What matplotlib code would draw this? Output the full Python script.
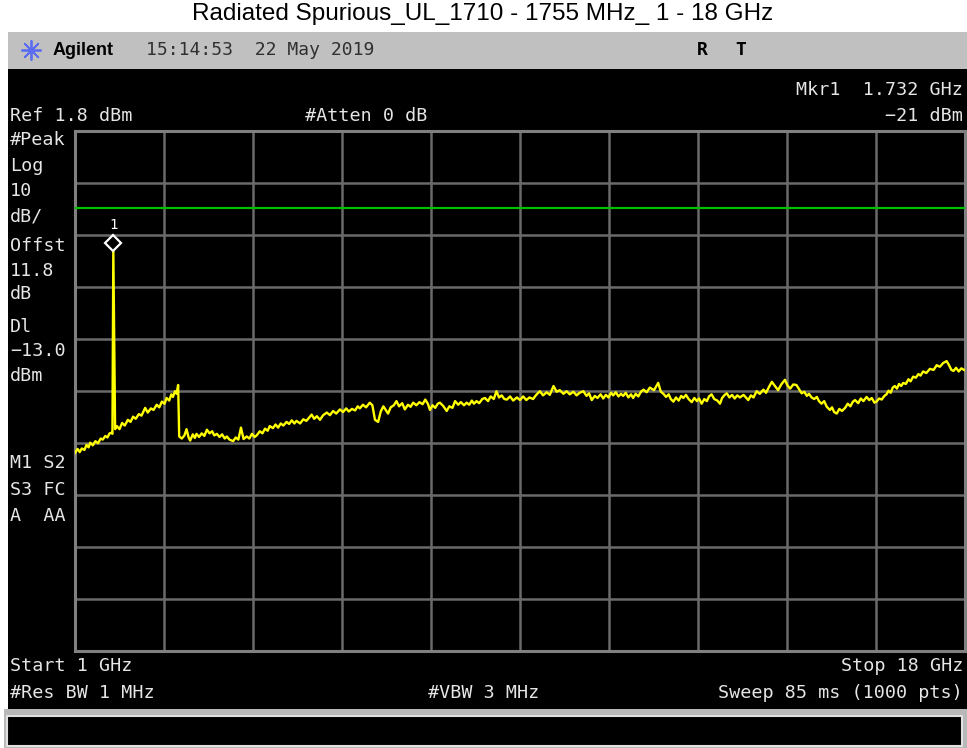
# Spectrum analyzer screenshot: radiated spurious, 1 - 18 GHz
import matplotlib
matplotlib.use("Agg")
import matplotlib.pyplot as plt
import matplotlib.patches as patches
import matplotlib.transforms as mtransforms

# trace (GHz, dBm)
freq_ghz = [
    1.00, 1.05, 1.09, 1.13, 1.18, 1.22, 1.26, 1.29, 1.34, 1.39,
    1.44, 1.49, 1.53, 1.58, 1.62, 1.66, 1.70, 1.715, 1.732, 1.749,
    1.766, 1.80, 1.85, 1.90, 1.95, 2.01, 2.06, 2.11, 2.16, 2.22,
    2.27, 2.34, 2.39, 2.45, 2.50, 2.56, 2.61, 2.66, 2.71, 2.75,
    2.80, 2.84, 2.87, 2.91, 2.94, 2.97, 2.99, 3.04, 3.09, 3.13,
    3.17, 3.20, 3.25, 3.29, 3.32, 3.37, 3.42, 3.47, 3.52, 3.57,
    3.62, 3.66, 3.71, 3.76, 3.81, 3.86, 3.90, 3.95, 4.02, 4.07,
    4.12, 4.17, 4.22, 4.28, 4.33, 4.38, 4.43, 4.47, 4.53, 4.58,
    4.63, 4.68, 4.72, 4.78, 4.83, 4.88, 4.93, 4.98, 5.04, 5.09,
    5.14, 5.19, 5.23, 5.30, 5.36, 5.42, 5.47, 5.52, 5.57, 5.62,
    5.68, 5.74, 5.81, 5.87, 5.93, 5.99, 6.06, 6.12, 6.18, 6.23,
    6.29, 6.35, 6.40, 6.44, 6.50, 6.56, 6.63, 6.68, 6.73, 6.79,
    6.84, 6.89, 6.94, 6.98, 7.03, 7.09, 7.14, 7.19, 7.25, 7.30,
    7.36, 7.41, 7.46, 7.52, 7.58, 7.64, 7.69, 7.74, 7.78, 7.83,
    7.88, 7.93, 7.97, 8.03, 8.10, 8.15, 8.21, 8.26, 8.32, 8.37,
    8.43, 8.48, 8.53, 8.58, 8.62, 8.67, 8.72, 8.78, 8.83, 8.89,
    8.94, 9.00, 9.05, 9.10, 9.15, 9.20, 9.25, 9.31, 9.37, 9.44,
    9.50, 9.56, 9.62, 9.68, 9.75, 9.81, 9.88, 9.94, 10.01, 10.07,
    10.14, 10.20, 10.26, 10.33, 10.39, 10.45, 10.52, 10.58, 10.64, 10.71,
    10.77, 10.82, 10.87, 10.93, 10.98, 11.04, 11.09, 11.14, 11.19, 11.24,
    11.28, 11.33, 11.38, 11.43, 11.47, 11.52, 11.57, 11.62, 11.66, 11.71,
    11.76, 11.81, 11.86, 11.92, 11.98, 12.06, 12.14, 12.19, 12.24, 12.29,
    12.34, 12.38, 12.43, 12.48, 12.53, 12.58, 12.62, 12.67, 12.72, 12.78,
    12.83, 12.88, 12.92, 12.97, 13.02, 13.07, 13.11, 13.16, 13.21, 13.27,
    13.32, 13.36, 13.41, 13.45, 13.50, 13.55, 13.60, 13.65, 13.70, 13.77,
    13.86, 13.91, 13.96, 14.02, 14.08, 14.15, 14.20, 14.26, 14.31, 14.37,
    14.43, 14.49, 14.56, 14.61, 14.66, 14.72, 14.78, 14.83, 14.88, 14.93,
    14.98, 15.02, 15.07, 15.12, 15.17, 15.21, 15.26, 15.31, 15.36, 15.42,
    15.46, 15.50, 15.55, 15.60, 15.65, 15.71, 15.76, 15.81, 15.86, 15.90,
    15.96, 16.01, 16.06, 16.12, 16.17, 16.22, 16.27, 16.31, 16.36, 16.41,
    16.46, 16.50, 16.54, 16.58, 16.62, 16.66, 16.70, 16.74, 16.78, 16.82,
    16.87, 16.92, 16.96, 17.01, 17.06, 17.11, 17.15, 17.20, 17.26, 17.33,
    17.40, 17.46, 17.52, 17.58, 17.65, 17.70, 17.74, 17.78, 17.83, 17.88,
    17.93, 18.00,
]
level_dbm = [
    -60.2, -59.4, -60.0, -59.3, -59.6, -58.6, -59.1, -58.2, -58.7, -57.9,
    -58.3, -57.4, -57.6, -56.9, -57.2, -56.4, -56.3, -56.5, -21.0, -38.5,
    -55.6, -55.0, -55.6, -54.4, -54.9, -53.8, -54.2, -53.2, -53.6, -52.7,
    -53.0, -51.5, -52.4, -51.6, -51.9, -50.9, -51.4, -50.3, -50.7, -49.6,
    -50.1, -48.9, -49.4, -48.3, -48.8, -47.1, -57.0, -57.4, -56.8, -55.6,
    -57.2, -57.8, -56.6, -57.3, -56.5, -57.1, -56.4, -56.9, -55.7, -56.4,
    -56.0, -56.8, -56.5, -57.1, -56.6, -57.4, -57.0, -57.6, -57.9, -57.2,
    -57.6, -55.3, -57.5, -57.0, -57.4, -56.5, -57.1, -56.8, -56.0, -56.4,
    -55.5, -55.9, -55.0, -55.4, -54.7, -55.3, -54.5, -54.9, -54.2, -54.6,
    -53.9, -54.5, -54.0, -54.5, -53.7, -54.0, -53.4, -52.8, -53.6, -53.1,
    -53.8, -52.9, -52.4, -52.9, -52.1, -52.6, -51.8, -52.3, -51.6, -52.2,
    -51.7, -52.0, -51.2, -51.6, -50.9, -51.4, -50.5, -51.0, -53.8, -54.2,
    -52.2, -51.2, -52.0, -52.6, -51.4, -51.0, -50.2, -51.2, -50.6, -51.8,
    -50.9, -51.3, -50.5, -51.0, -50.4, -50.8, -49.9, -50.7, -51.9, -51.0,
    -51.5, -50.7, -50.5, -51.1, -52.1, -51.2, -51.5, -50.2, -50.9, -50.4,
    -51.0, -50.5, -50.9, -50.1, -50.7, -50.2, -50.6, -49.8, -49.6, -50.2,
    -49.3, -49.8, -48.3, -49.5, -49.1, -49.8, -49.9, -49.3, -50.1, -49.5,
    -50.0, -49.3, -50.0, -49.5, -49.8, -49.0, -48.3, -49.1, -48.5, -49.0,
    -47.3, -48.4, -48.1, -48.8, -48.3, -48.9, -48.4, -49.1, -48.6, -48.3,
    -49.2, -48.7, -50.0, -49.2, -49.6, -48.9, -49.7, -49.0, -49.5, -48.6,
    -49.1, -48.5, -49.3, -48.8, -49.2, -48.6, -49.5, -48.9, -49.6, -48.8,
    -49.3, -48.4, -48.0, -48.5, -47.6, -48.1, -46.7, -48.4, -48.8, -49.4,
    -48.9, -49.8, -50.3, -49.5, -50.1, -49.2, -49.6, -49.0, -49.8, -50.4,
    -49.6, -50.2, -49.7, -50.7, -49.8, -50.2, -49.3, -48.9, -49.8, -50.1,
    -50.7, -49.6, -49.0, -48.7, -49.5, -49.0, -49.7, -49.1, -49.5, -49.0,
    -50.0, -49.1, -49.5, -48.3, -48.8, -48.0, -48.6, -47.4, -46.5, -47.3,
    -48.1, -47.0, -46.1, -47.2, -47.8, -47.0, -47.1, -47.9, -48.7, -48.4,
    -49.2, -48.8, -49.5, -49.8, -49.4, -50.2, -50.7, -50.2, -51.3, -51.9,
    -51.4, -52.3, -52.6, -51.7, -52.1, -51.5, -50.7, -51.2, -50.3, -50.0,
    -50.6, -49.7, -50.2, -49.4, -50.0, -49.6, -50.5, -50.3, -49.7, -49.9,
    -49.2, -48.9, -48.2, -48.6, -47.6, -47.3, -47.8, -46.9, -47.3, -46.7,
    -46.9, -46.0, -46.4, -45.5, -45.7, -45.0, -45.3, -44.5, -44.8, -44.0,
    -44.2, -43.3, -43.6, -42.9, -42.5, -43.4, -44.2, -44.4, -43.8, -44.5,
    -43.9, -44.3,
]

start_ghz, stop_ghz = 1.0, 18.0
ref_dbm = 1.8
db_per_div = 10
display_line = -13.0
marker_ghz, marker_dbm = 1.732, -21.0

left_labels = ["#Peak", "Log", "10", "dB/", "Offst", "11.8", "dB",
               "Dl", "\u221213.0", "dBm", "M1 S2", "S3 FC", "A  AA"]
left_label_y = [140, 166, 191, 216, 246, 271, 294, 327, 351, 376, 463, 490, 516]

W, H = 967, 748
fig = plt.figure(figsize=(W / 100, H / 100), dpi=100)

# pixel overlay for the instrument frame and annotations
bg = fig.add_axes([0, 0, 1, 1])
bg.set_xlim(0, W)
bg.set_ylim(H, 0)
bg.axis("off")

bg.add_patch(patches.Rectangle((8, 32), W - 8, 37, color="#c0c0c0", lw=0))
bg.add_patch(patches.Rectangle((8, 69), W - 8, 640, color="black", lw=0))
bg.add_patch(patches.Rectangle((4, 709), W - 4, 39, color="#b8b8b8", lw=0))
bg.add_patch(patches.Rectangle((7, 716), W - 12, 30, facecolor="black",
                               edgecolor="#e0e0e0", lw=1.5))

bg.text(483, 14, "Radiated Spurious_UL_1710 - 1755 MHz_ 1 - 18 GHz",
        ha="center", va="center", fontsize=17.5, family="Liberation Sans")

# header bar
bg.scatter([31], [50], marker=(8, 2, 0), s=190, color="#5a6cf0", lw=1.3)
bg.text(53, 50, "Agilent", ha="left", va="center", fontsize=13,
        fontweight="bold", family="Liberation Sans")
bg.text(146, 50, "15:14:53  22 May 2019", ha="left", va="center",
        fontsize=13, color="#303030", family="DejaVu Sans Mono")
bg.text(702, 50, "R", ha="center", va="center", fontsize=13,
        fontweight="bold", family="DejaVu Sans Mono")
bg.text(741, 50, "T", ha="center", va="center", fontsize=13,
        fontweight="bold", family="DejaVu Sans Mono")

txt = dict(color="#e6e6e6", fontsize=13.2, family="DejaVu Sans Mono", va="center")
bg.text(963, 90, "Mkr1  1.732 GHz", ha="right", **txt)
bg.text(10, 116, "Ref 1.8 dBm", ha="left", **txt)
bg.text(305, 116, "#Atten 0 dB", ha="left", **txt)
bg.text(963, 116, "\u221221 dBm", ha="right", **txt)
for lab, yy in zip(left_labels, left_label_y):
    bg.text(10, yy, lab, ha="left", **txt)
bg.text(10, 666, "Start 1 GHz", ha="left", **txt)
bg.text(963, 666, "Stop 18 GHz", ha="right", **txt)
bg.text(10, 693, "#Res BW 1 MHz", ha="left", **txt)
bg.text(428, 693, "#VBW 3 MHz", ha="left", **txt)
bg.text(963, 693, "Sweep 85 ms (1000 pts)", ha="right", **txt)

# graticule in data units
x0, x1, y0, y1 = 75, 965, 130.7, 650.7
ax = fig.add_axes([x0 / W, 1 - y1 / H, (x1 - x0) / W, (y1 - y0) / H])
ax.set_facecolor("none")
ax.set_xlim(start_ghz, stop_ghz)
ax.set_ylim(ref_dbm - 10 * db_per_div, ref_dbm)
ax.set_xticks([start_ghz + i * (stop_ghz - start_ghz) / 10 for i in range(11)])
ax.set_yticks([ref_dbm - i * db_per_div for i in range(11)])
ax.grid(True, color="#6a6a6a", lw=1.8)
ax.tick_params(length=0, labelbottom=False, labelleft=False)
for s in ax.spines.values():
    s.set_color("#808080")
    s.set_linewidth(2.2)

ax.axhline(display_line, color="#00c000", lw=1.6, zorder=3)
ax.plot(freq_ghz, level_dbm, color="#ffff00", lw=1.7, zorder=4)

# marker 1: diamond just above the peak, with its number
mk_tr = mtransforms.offset_copy(ax.transData, fig=fig, x=0, y=6, units="dots")
ax.plot([marker_ghz], [marker_dbm], marker="D", ms=8, mfc="black",
        mec="white", mew=1.6, transform=mk_tr, zorder=5, clip_on=False)
ax.annotate("1", (marker_ghz, marker_dbm), xytext=(0, 24),
            textcoords="offset pixels", ha="center", va="center",
            color="white", fontsize=10, family="DejaVu Sans Mono")

fig.savefig("out.png", dpi=100)
